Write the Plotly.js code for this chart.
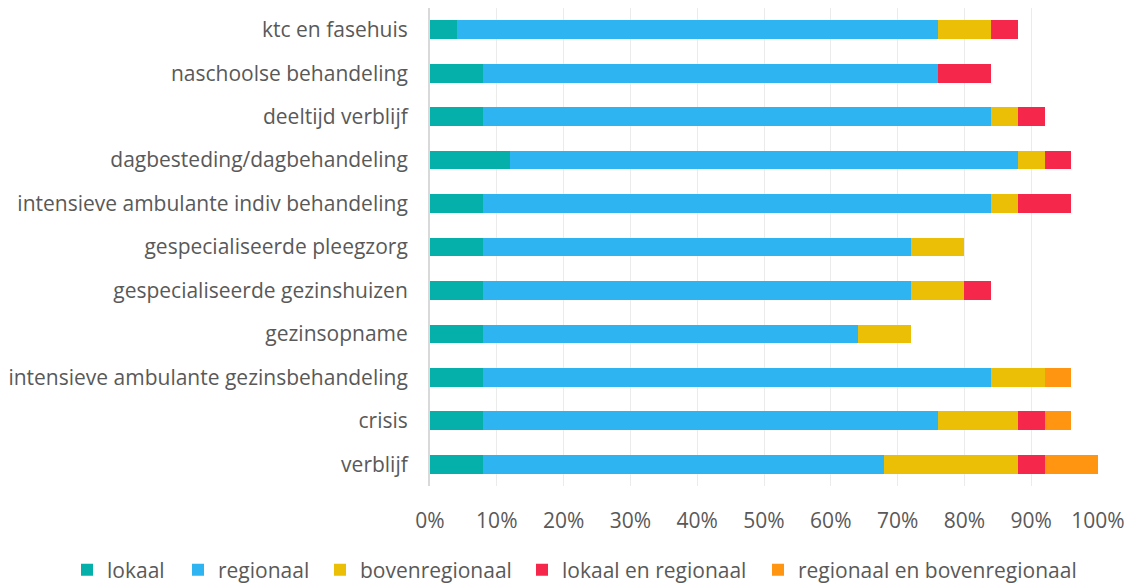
<!DOCTYPE html>
<html>
<head>
<meta charset="utf-8">
<script src="https://cdn.plot.ly/plotly-3.0.1.min.js"></script>
<style>html,body{margin:0;padding:0;background:#fff;}#chart{width:1135px;height:585px;}</style>
</head>
<body>
<div id="chart"></div>
<script>
const categories = [
  "ktc en fasehuis",
  "naschoolse behandeling",
  "deeltijd verblijf",
  "dagbesteding/dagbehandeling",
  "intensieve ambulante indiv behandeling",
  "gespecialiseerde pleegzorg",
  "gespecialiseerde gezinshuizen",
  "gezinsopname",
  "intensieve ambulante gezinsbehandeling",
  "crisis",
  "verblijf"
];
const lokaal = [4, 8, 8, 12, 8, 8, 8, 8, 8, 8, 8];
const regionaal = [72, 68, 76, 76, 76, 64, 64, 56, 76, 68, 60];
const bovenregionaal = [8, 0, 4, 4, 4, 8, 8, 8, 8, 12, 20];
const lokaalEnRegionaal = [4, 8, 4, 4, 8, 0, 4, 0, 0, 4, 4];
const regionaalEnBovenregionaal = [0, 0, 0, 0, 0, 0, 0, 0, 4, 4, 8];
const xTickVals = [0, 10, 20, 30, 40, 50, 60, 70, 80, 90, 100];
const xTickText = ["0%", "10%", "20%", "30%", "40%", "50%", "60%", "70%", "80%", "90%", "100%"];

const seriesNames = ["lokaal", "regionaal", "bovenregionaal", "lokaal en regionaal", "regionaal en bovenregionaal"];
const seriesValues = [lokaal, regionaal, bovenregionaal, lokaalEnRegionaal, regionaalEnBovenregionaal];
const seriesColors = ["#05B0AA", "#2EB4F0", "#EBBF05", "#F5284C", "#FF9510"];

const FONT = "'Open Sans', 'Noto Sans', sans-serif";
const legendIds = ["legend", "legend2", "legend3", "legend4", "legend5"];
const legendLeftPx = [67, 178, 320, 522, 758];

const data = seriesNames.map((n, i) => ({
  type: "bar",
  orientation: "h",
  name: n,
  y: categories,
  x: seriesValues[i],
  legend: legendIds[i],
  marker: {color: seriesColors[i], line: {width: 0}},
  hoverinfo: "x+y+name"
}));

const layout = {
  width: 1135,
  height: 585,
  barmode: "stack",
  bargap: 0.57,
  paper_bgcolor: "#fff",
  plot_bgcolor: "#fff",
  margin: {l: 430, r: 37, t: 8, b: 99, autoexpand: false},
  font: {family: FONT, size: 21, color: "#595959"},
  xaxis: {
    range: [0, 100],
    tickvals: xTickVals,
    ticktext: xTickText,
    showgrid: true,
    gridcolor: "#EBEBEB",
    gridwidth: 1,
    zeroline: false,
    showline: false,
    ticks: "",
    ticklabelstandoff: 20,
    tickfont: {family: FONT, size: 21, color: "#595959"},
    fixedrange: true
  },
  yaxis: {
    autorange: "reversed",
    showline: true,
    linecolor: "#D9D9D9",
    linewidth: 2,
    showgrid: false,
    ticks: "",
    ticklabelstandoff: 16,
    tickfont: {family: FONT, size: 21, color: "#595959"},
    fixedrange: true
  },
  showlegend: true
};

legendIds.forEach((id, i) => {
  layout[id] = {
    orientation: "h",
    xref: "container",
    yref: "container",
    x: legendLeftPx[i] / 1135,
    xanchor: "left",
    y: 1 - 570 / 585,
    yanchor: "middle",
    bgcolor: "rgba(0,0,0,0)",
    font: {family: FONT, size: 21, color: "#595959"},
    itemwidth: 30
  };
});

Plotly.newPlot("chart", data, layout, {displayModeBar: false, staticPlot: true});
</script>
</body>
</html>
